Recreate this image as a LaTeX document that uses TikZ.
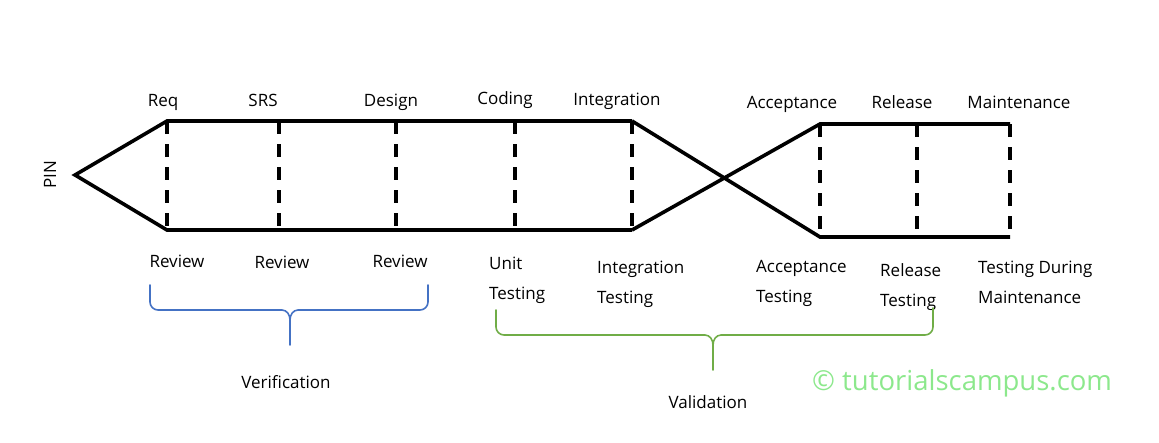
\documentclass[tikz,border=0pt]{standalone}
\usepackage{fontspec}
\setmainfont{Open Sans}
\definecolor{verblue}{RGB}{68,114,196}
\definecolor{valgreen}{RGB}{112,173,71}
\definecolor{wmgreen}{RGB}{140,232,140}
\tikzset{
  phase/.style={line width=3.6pt},
  gate/.style={line width=3.6pt, dash pattern=on 13pt off 10pt},
  lbl/.style={inner sep=0pt, font=\fontsize{17}{30}\selectfont, align=left},
  brace/.style={line width=1.6pt, line cap=round}
}
\begin{document}
\begin{tikzpicture}[x=1pt, y=-1pt, line join=miter]
	\useasboundingbox (0,0) rectangle (1159,442);
	\path
	(75,175) coordinate (pin)
	(167,121) coordinate (req) (167,230) coordinate (req')
	(279,121) coordinate (srs) (279,230) coordinate (srs')
	(396,121) coordinate (des) (396,230) coordinate (des')
	(515,121) coordinate (cod) (515,230) coordinate (cod')
	(632,121) coordinate (int) (632,230) coordinate (int')
	(820,124) coordinate (acc) (820,237) coordinate (acc')
	(917,124) coordinate (rel) (917,237) coordinate (rel')
	(1010,124) coordinate (mnt) (1010,237) coordinate (mnt');
	% outline
	\draw[phase] (int) -- (req) -- (pin) -- (req') -- (int');
	\draw[phase] (int') -- (acc) -- (mnt)
	(int) -- (acc') -- (mnt');
	\foreach \p in {req, srs, des, cod, int, acc, rel, mnt}
	\draw[gate] (\p) -- (\p');
	
	% phases
	\node[lbl, rotate=90] (pinlbl) at (50,175) {PIN};
	\node[lbl, anchor=base] (reqlbl) at (163,106) {Req};
	\node[lbl, anchor=base] (srslbl) at (263,106) {SRS};
	\node[lbl, anchor=base] (deslbl) at (391,106) {Design};
	\node[lbl, anchor=base] (codlbl) at (505,104) {Coding};
	\node[lbl, anchor=base] (intlbl) at (617,105) {Integration};
	\node[lbl, anchor=base] (acclbl) at (792,108) {Acceptance};
	\node[lbl, anchor=base] (rellbl) at (902,108) {Release};
	\node[lbl, anchor=base] (mntlbl) at (1019,108) {Maintenance};
	
	% checks
	\node[lbl, anchor=base] (rev1) at (177,267) {Review};
	\node[lbl, anchor=base] (rev2) at (282,268) {Review};
	\node[lbl, anchor=base] (rev3) at (400,267) {Review};
	\node[lbl, anchor=north west] (unit) at (489,257) {Unit\\Testing};
	\node[lbl, anchor=north west] (itest) at (597,261) {Integration\\Testing};
	\node[lbl, anchor=north west] (atest) at (756,260) {Acceptance\\Testing};
	\node[lbl, anchor=north west] (rtest) at (880,263) {Release\\Testing};
	\node[lbl, anchor=north west] (mtest) at (978,261) {Testing During\\Maintenance};
	
	% braces
	\draw[brace, verblue] (150,285) -- (150,302) to[out=-90,in=180] (158,310) -- (282,310)
	to[out=0,in=90] (290,320) -- (290,345)
	(290,320) to[out=90,in=180] (298,310) -- (420,310) to[out=0,in=-90] (428,302) -- (428,285);
	\draw[brace, valgreen] (496,310) -- (496,327) to[out=-90,in=180] (504,335) -- (705,335)
	to[out=0,in=90] (713,345) -- (713,370)
	(713,345) to[out=90,in=180] (721,335) -- (925,335) to[out=0,in=-90] (933,327) -- (933,308);
	\node[lbl, anchor=base] (verif) at (286,388) {Verification};
	\node[lbl, anchor=base] (valid) at (708,408) {Validation};
	
	\node[anchor=base west, inner sep=0pt, text=wmgreen, font=\fontsize{27.5}{30}\selectfont] (wm) at (812,390) {© tutorialscampus.com};
\end{tikzpicture}
\end{document}
